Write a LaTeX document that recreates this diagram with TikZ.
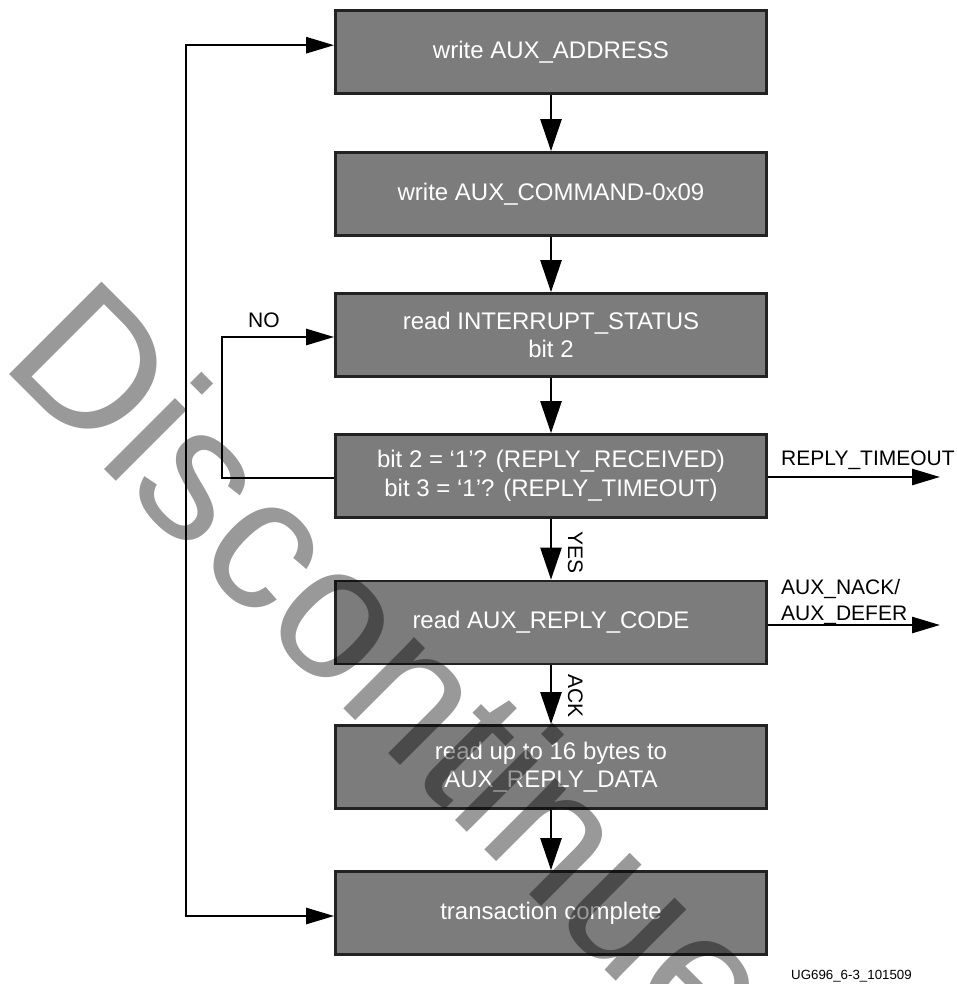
\documentclass[tikz,border=0pt]{standalone}
\usepackage{fontspec}
\setmainfont{Liberation Sans}
\usetikzlibrary{arrows.meta,calc}
\definecolor{boxfill}{HTML}{7B7C7B}
\definecolor{boxedge}{HTML}{222222}
\begin{document}
\begin{tikzpicture}[x=1pt,y=-1pt,
  stepbox/.style={draw=boxedge, fill=boxfill, line width=2.7pt,
    minimum width=431pt, minimum height=83pt, inner sep=0pt,
    text=white, align=center, font=\fontsize{24}{28.5}\selectfont},
  link/.style={line width=2.6pt, draw=black},
  vflow/.style={link, -{Triangle[length=32pt,width=21pt]}},
  hflow/.style={link, -{Triangle[length=28pt,width=16pt]}},
  lbl/.style={inner sep=0pt, text=black, font=\fontsize{21}{25.5}\selectfont},
]
\useasboundingbox (0,0) rectangle (956,984);
\fill[white] (0,0) rectangle (956,984);

% process steps
\node[stepbox] (b1) at (551,52.2)  {write AUX\_ADDRESS};
\node[stepbox] (b2) at (551,194)   {write AUX\_COMMAND-0x09};
\node[stepbox] (b3) at (551,335)   {read INTERRUPT\_STATUS\\bit 2};
\node[stepbox] (b4) at (551,476)   {bit 2 = ‘1’? (REPLY\_RECEIVED)\\bit 3 = ‘1’? (REPLY\_TIMEOUT)};
\node[stepbox] (b5) at (551,622.5) {read AUX\_REPLY\_CODE};
\node[stepbox] (b6) at (551,767)   {read up to 16 bytes to\\AUX\_REPLY\_DATA};
\node[stepbox] (b7) at (551,913)   {transaction complete};

% main downward flow
\draw[vflow] (b1.south) -- (b2.north);
\draw[vflow] (b2.south) -- (b3.north);
\draw[vflow] (b3.south) -- (b4.north);
\draw[vflow] (b4.south) -- (b5.north);
\draw[vflow] (b5.south) -- (b6.north);
\draw[vflow] (b6.south) -- (b7.north);

% polling loop back to the status read
\draw[hflow] ([yshift=-2pt]b4.west) -- ++(-112,0) |- ([yshift=-2pt]b3.west);

% outer return path
\coordinate (loopx) at (186,480);
\draw[hflow] (loopx) |- ([yshift=7pt]b1.west);
\draw[hflow] (loopx) |- ([yshift=-3pt]b7.west);

% error exits
\coordinate (exitx) at (940,0);
\draw[hflow] ([yshift=-1pt]b4.east) -- ([yshift=-1pt]b4.east -| exitx);
\draw[hflow] ([yshift=-2.5pt]b5.east) -- ([yshift=-2.5pt]b5.east -| exitx);

% connector labels
\node[lbl, anchor=base west] (noL) at (248,327.5) {NO};
\node[lbl, anchor=base west] (toL) at (781,465) {REPLY\_TIMEOUT};
\node[lbl, anchor=base west] (nackL) at (781,594.5) {AUX\_NACK/};
\node[lbl, anchor=base west] (deferL) at (781,620) {AUX\_DEFER};
\node[lbl, rotate=-90, anchor=base west] (yesL) at (568,531) {YES};
\node[lbl, rotate=-90, anchor=base west] (ackL) at (568,674) {ACK};

% figure tag
\node[inner sep=0pt, anchor=base west, font=\fontsize{13.3}{16}\selectfont] (tag) at (791,979.5) {UG696\_6-3\_101509};

% status stamp across the page
\node[rotate=-45, anchor=base west, inner sep=0pt, text=black, text opacity=0.4,
  font=\fontsize{190}{190}\selectfont] (stamp) at (-2,363) {Discontinued};
\end{tikzpicture}
\end{document}
